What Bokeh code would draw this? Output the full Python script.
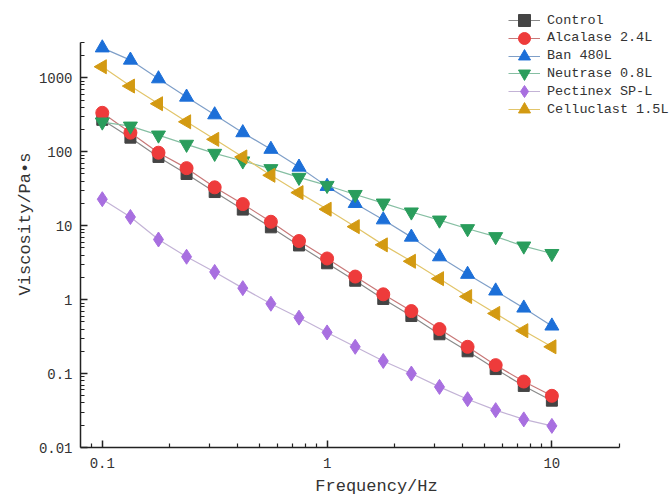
import numpy as np
from bokeh.plotting import figure
from bokeh.models import Range1d, FixedTicker, Legend, LegendItem
from bokeh.embed import file_html
from bokeh.resources import INLINE

# Frequency (Hz), 8 points per decade from 0.1 to 10
freq = [0.1, 0.1334, 0.1778, 0.2371, 0.3162, 0.4217, 0.5623, 0.7499, 1.0,
        1.334, 1.778, 2.371, 3.162, 4.217, 5.623, 7.499, 10.0]

control = [270, 155, 85, 50, 28.5, 16.5, 9.5, 5.4, 3.1, 1.8, 1.02, 0.6, 0.34, 0.2, 0.115, 0.068, 0.043]
alcalase = [336, 181, 97, 60, 33, 19.6, 11.3, 6.2, 3.6, 2.05, 1.18, 0.70, 0.40, 0.23, 0.13, 0.078, 0.050]
ban = [2540, 1735, 970, 548, 316, 181, 108, 62, 34, 20, 12, 7.0, 3.8, 2.2, 1.31, 0.77, 0.44]
neutrase = [252, 222, 168, 126, 95, 75, 59, 45, 35, 26.4, 20.2, 15.3, 11.9, 9.1, 7.1, 5.3, 4.2]
pectinex = [22.8, 13.1, 6.5, 3.8, 2.37, 1.43, 0.88, 0.57, 0.36, 0.23, 0.148, 0.10, 0.066, 0.045, 0.032, 0.024, 0.0196]
celluclast = [1410, 773, 446, 254, 147, 85, 48, 28, 16.7, 9.7, 5.5, 3.3, 1.92, 1.10, 0.65, 0.38, 0.23]

labels = ["Control", "Alcalase 2.4L", "Ban 480L", "Neutrase 0.8L", "Pectinex SP-L", "Celluclast 1.5L"]
series = [control, alcalase, ban, neutrase, pectinex, celluclast]
colors = ["#444444", "#ee3b3b", "#1c6fd8", "#2a9d5c", "#a86fe0", "#d39a12"]
line_colors = ["#8a8a8a", "#c87878", "#7f9fc8", "#86bfa3", "#c3b3d6", "#e2c56a"]
markers = ["square", "circle", "triangle", "inverted_triangle", "diamond", "triangle"]
angles = [0, 0, 0, 0, 0, np.pi / 2]
sizes = [11, 13, 14, 14, 15, 14]

x_major = [0.1, 1, 10]
y_major = [0.01, 0.1, 1, 10, 100, 1000]
x_tick_labels = ["0.1", "1", "10"]
y_tick_labels = ["0.01", "0.1", "1", "10", "100", "1000"]
x_lo, x_hi = 0.08, 20
y_lo, y_hi = 0.01, 3000

FONT = "Liberation Mono"

# frame extends to top/right edges so the legend may sit there; axis lines are bounded
p = figure(width=672, height=499, x_axis_type="log", y_axis_type="log",
           x_range=Range1d(x_lo, 34.4), y_range=Range1d(y_lo, 11100),
           output_backend="svg", toolbar_location=None,
           min_border_left=80, min_border_right=0, min_border_top=0, min_border_bottom=52)
p.outline_line_color = None
p.xgrid.visible = False
p.ygrid.visible = False
p.background_fill_color = "white"
p.border_fill_color = "white"

x_minor = [0.09] + [k * 0.1 for k in range(2, 10)] + [float(k) for k in range(2, 10)] + [20.0]
y_minor = []
for d in [0.01, 0.1, 1, 10, 100, 1000]:
    for k in range(2, 10):
        if d * k <= y_hi:
            y_minor.append(d * k)

p.xaxis.ticker = FixedTicker(ticks=x_major, minor_ticks=x_minor)
p.yaxis.ticker = FixedTicker(ticks=y_major, minor_ticks=y_minor)
p.xaxis.major_label_overrides = {v: t for v, t in zip(x_major, x_tick_labels)}
p.yaxis.major_label_overrides = {v: t for v, t in zip(y_major, y_tick_labels)}
p.xaxis.bounds = (x_lo, x_hi)
p.yaxis.bounds = (y_lo, y_hi)

for ax in [p.xaxis[0], p.yaxis[0]]:
    ax.axis_line_color = "#222222"
    ax.axis_line_width = 1.5
    ax.major_tick_line_color = "#222222"
    ax.minor_tick_line_color = "#222222"
    ax.major_tick_line_width = 1.5
    ax.minor_tick_line_width = 1.2
    ax.major_tick_in = 7
    ax.major_tick_out = 0
    ax.minor_tick_in = 4
    ax.minor_tick_out = 0
    ax.major_label_text_font = FONT
    ax.major_label_text_font_size = "14px"
    ax.major_label_text_color = "#333333"
    ax.axis_label_text_font = FONT
    ax.axis_label_text_font_size = "17px"
    ax.axis_label_text_font_style = "normal"
    ax.axis_label_text_color = "#333333"

p.xaxis.axis_label = "Frequency/Hz"
p.yaxis.axis_label = "Viscosity/Pa•s"
p.xaxis.major_label_standoff = 10
p.xaxis.axis_label_standoff = 6
p.yaxis.major_label_standoff = 8
p.yaxis.axis_label_standoff = 1

renderers = []
for lab, ys, c, lc, m, a, s in zip(labels, series, colors, line_colors, markers, angles, sizes):
    r1 = p.line(freq, ys, line_color=lc, line_width=1.2)
    r2 = p.scatter(freq, ys, marker=m, angle=a, size=s, fill_color=c, line_color=c)
    renderers.append((lab, [r1, r2]))

# one single-item legend per entry so that icons can be large while rows stay tight
for i, (lab, rs) in enumerate(renderers):
    center_from_top = 20 + 17.8 * i
    lg = Legend(items=[LegendItem(label=lab, renderers=rs)],
                location=(428, 447 - center_from_top - 15))
    lg.glyph_width = 32
    lg.glyph_height = 30
    lg.label_height = 16
    lg.padding = 0
    lg.margin = 0
    lg.label_standoff = 7
    lg.border_line_color = None
    lg.background_fill_alpha = 0
    lg.label_text_font = FONT
    lg.label_text_font_size = "13.5px"
    lg.label_text_color = "#333333"
    p.add_layout(lg)

open("out.html", "w").write(file_html(p, INLINE))
